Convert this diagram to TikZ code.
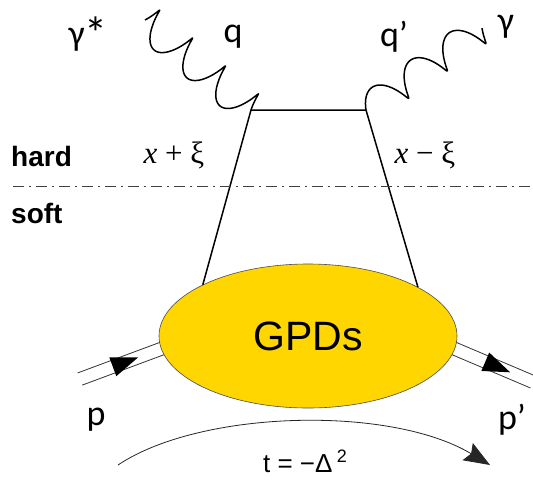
\documentclass[tikz,border=0pt]{standalone}
\usepackage{fontspec}
\setmainfont{Liberation Sans}
\newfontfamily\carl{Carlito}
\newfontfamily\tms{Liberation Serif}
\usetikzlibrary{shapes.geometric,decorations.markings,arrows.meta,backgrounds,calc}
\definecolor{gpdgold}{RGB}{255,214,0}
\tikzset{
  wavyN/.store in=\wN, wavyA/.store in=\wA, wavyK/.store in=\wK,
  wavyN=3.5, wavyA=13, wavyK=5,
  wavy/.style={to path={
    let \p1=(\tikztostart), \p2=(\tikztotarget),
        \n1={veclen(\x2-\x1,\y2-\y1)}, \n2={atan2(\y2-\y1,\x2-\x1)} in
    plot[domain=0:1, samples=160, smooth, variable=\t]
      ({\x1 + cos(\n2)*(\t*\n1 + \wK*(cos(360*\wN*\t)-1) - \t*\wK*(cos(360*\wN)-1)) - sin(\n2)*\wA*sin(360*\wN*\t)},
       {\y1 + sin(\n2)*(\t*\n1 + \wK*(cos(360*\wN*\t)-1) - \t*\wK*(cos(360*\wN)-1)) + cos(\n2)*\wA*sin(360*\wN*\t)})
  }}
}
\begin{document}
\begin{tikzpicture}[x=1pt,y=-1pt,
  gpdbox/.style={ellipse, draw=black!70, line width=0.6pt, fill=gpdgold,
    minimum width=298pt, minimum height=144pt, inner sep=0pt,
    font=\fontsize{41}{41}\selectfont},
  quark/.style={line width=1.5pt, line join=miter},
  photon/.style={line width=1.5pt, line join=round},
  biglab/.style={inner sep=0pt, font=\carl\fontsize{36}{36}\selectfont},
  scalelab/.style={inner sep=0pt, anchor=west, font=\bfseries\fontsize{28}{28}\selectfont},
  momlab/.style={inner sep=0pt, font=\tms\fontsize{31}{31}\selectfont},
  dashdotline/.style={line width=0.8pt, black!75, dash pattern=on 11pt off 5pt on 2pt off 5pt},
  pline/.style={line width=0.8pt, black!80},
  ptri/.style={postaction={decorate}, decoration={markings,
    mark=at position #1 with {\fill[black] (0pt,0pt) -- (-27pt,10pt) -- (-27pt,-10pt) -- cycle;}}},
  tarrow/.style={line width=0.8pt, black!85, -{Stealth[length=26pt, width=20pt, inset=4pt]}}
]
\useasboundingbox (0,0) rectangle (533,483);

% GPD blob
\node[gpdbox] (gpd) at (308,336) {GPDs};

% quark lines
\coordinate (qL) at (251,110);
\coordinate (qR) at (366,110);
\draw[quark] (gpd.154) -- (qL) -- (qR) -- (gpd.24);

% photons
\coordinate (gs) at (145,20);
\coordinate (gr) at (482,28);
\draw[photon, wavyN=3.5, wavyA=17, wavyK=6] (gs) to[wavy] (qL);
\draw[photon, wavyN=3, wavyA=15, wavyK=-6] (qR) to[wavy] (gr);

% photon labels
\node[biglab] (lgs) at (88,34) {γ\raisebox{-4pt}{\fontsize{46}{46}\selectfont *}};
\node[biglab] (lq) at (233,37) {q};
\node[biglab] (lqp) at (394,37) {q’};
\node[biglab] (lg) at (506,27) {γ};

% hard / soft
\node[scalelab] (hard) at (11,156) {hard};
\node[scalelab] (soft) at (11,213) {soft};
\node[momlab] (xp) at (174,155) {\itshape x\upshape{} + ξ};
\node[momlab] (xm) at (425,155) {\itshape x\upshape{} − ξ};

\coordinate (dl) at (13,186);
\coordinate (dr) at (533,186);
\draw[dashdotline] (dl) -- (dr);

% protons
\coordinate (pin) at (80,379);
\coordinate (pout) at (533,382);
\coordinate (pinE) at ($(pin)!1.1!(gpd.185)$);
\coordinate (poutE) at ($(pout)!1.1!(gpd.355)$);
\begin{scope}[on background layer]
  \fill[white] (0,0) rectangle (533,483);
  \draw[pline] ($(pin)!6.5pt!90:(pinE)$) -- ($(pinE)!6.5pt!-90:(pin)$);
  \draw[pline] ($(pin)!6.5pt!-90:(pinE)$) -- ($(pinE)!6.5pt!90:(pin)$);
  \draw[pline] ($(pout)!6.5pt!90:(poutE)$) -- ($(poutE)!6.5pt!-90:(pout)$);
  \draw[pline] ($(pout)!6.5pt!-90:(poutE)$) -- ($(poutE)!6.5pt!90:(pout)$);
  \path[ptri=62pt] (pin) -- (gpd.185);
  \path[ptri=60pt] (gpd.355) -- (pout);
\end{scope}
\node[biglab] (lp) at (96,420) {p};
\node[biglab] (lpp) at (512,420) {p’};

% momentum transfer
\coordinate (ta) at (118,465);
\coordinate (tb) at (490,465);
\draw[tarrow] (ta) .. controls (200,410) and (390,405) .. (tb);
\node[inner sep=0pt, font=\fontsize{26}{26}\selectfont] (tlab) at (305,461)
  {t = −Δ\,\raisebox{10pt}{\fontsize{18}{18}\selectfont 2}};
\end{tikzpicture}
\end{document}
